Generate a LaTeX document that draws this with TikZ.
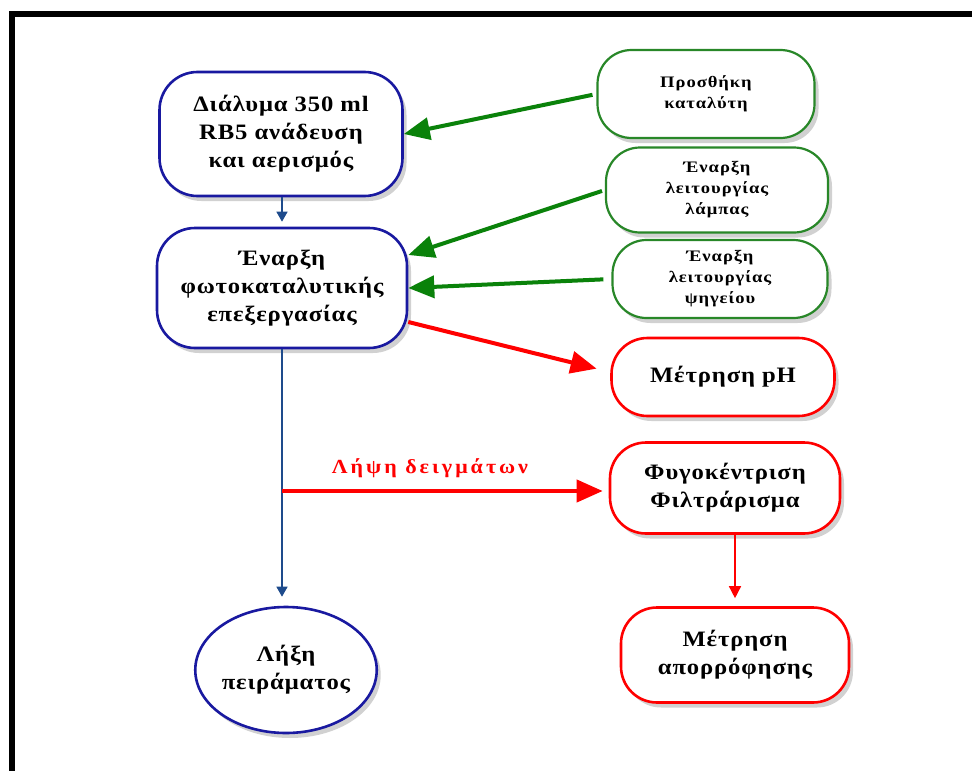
\documentclass[tikz,border=0pt]{standalone}
\usepackage{fontspec}
\setmainfont{Liberation Serif}
\usetikzlibrary{shapes.geometric,arrows.meta,shadows}
\definecolor{boxblue}{RGB}{25,25,160}
\definecolor{arrowblue}{RGB}{30,75,140}
\definecolor{boxgreen}{RGB}{40,135,40}
\definecolor{arrowgreen}{RGB}{10,130,10}
\definecolor{pured}{RGB}{255,0,0}
\newfontfamily\bigspaced[LetterSpace=4,FakeStretch=1.12]{Liberation Serif}
\newfontfamily\smallspaced[LetterSpace=6,FakeStretch=1.16]{Liberation Serif}
\newfontfamily\labelspaced[LetterSpace=15,FakeStretch=1.1]{Liberation Serif}
\begin{document}
\begin{tikzpicture}[x=1pt,y=-1pt,
  shade/.style={drop shadow={shadow xshift=4pt,shadow yshift=-5pt,opacity=0.18,fill=black}},
  base/.style={fill=white,align=center,inner sep=2pt,shade},
  bluebox/.style={base,draw=boxblue,line width=2.6pt,rounded corners=38pt,font=\bigspaced\bfseries\fontsize{22}{28}\selectfont},
  greenbox/.style={base,draw=boxgreen,line width=2.2pt,rounded corners=34pt,font=\smallspaced\bfseries\fontsize{16}{21}\selectfont},
  redbox/.style={base,draw=pured,line width=2.6pt,rounded corners=36pt,font=\bigspaced\bfseries\fontsize{22}{28}\selectfont},
  blueoval/.style={base,draw=boxblue,line width=2.6pt,ellipse,font=\bigspaced\bfseries\fontsize{22}{28}\selectfont},
  thinblue/.style={draw=arrowblue,line width=1.4pt,-{Triangle[length=10pt,width=11pt]}},
  thinred/.style={draw=pured,line width=1.4pt,-{Triangle[length=12pt,width=12pt]}},
  thickgreen/.style={draw=arrowgreen,line width=4pt,-{Triangle[length=26pt,width=22pt]}},
  thickred/.style={draw=pured,line width=4pt,-{Triangle[length=26pt,width=22pt]}},
  redlabel/.style={text=pured,font=\labelspaced\bfseries\fontsize{20}{22}\selectfont}
]
\useasboundingbox (0,0) rectangle (972,771);
\fill[white] (0,0) rectangle (972,771);
\draw[line width=6pt] (12,771) -- (12,13.5) -- (972,13.5);

\node[bluebox,minimum width=243pt,minimum height=124pt] (A) at (281,134) {Διάλυμα 350 ml\\RB5 ανάδευση\\και αερισμός};
\node[bluebox,minimum width=250pt,minimum height=120pt] (B) at (282,288) {Έναρξη\\φωτοκαταλυτικής\\επεξεργασίας};
\node[greenbox,minimum width=217pt,minimum height=88pt] (G1) at (706,94) {Προσθήκη\\καταλύτη};
\node[greenbox,minimum width=222pt,minimum height=85pt] (G2) at (717,190) {Έναρξη\\λειτουργίας\\λάμπας};
\node[greenbox,minimum width=215pt,minimum height=78pt] (G3) at (720,279) {Έναρξη\\λειτουργίας\\ψηγείου};
\node[redbox,minimum width=223pt,minimum height=78pt] (R1) at (723,377) {Μέτρηση pH};
\node[redbox,minimum width=230pt,minimum height=91pt] (R2) at (725,488) {Φυγοκέντριση\\Φιλτράρισμα};
\node[redbox,minimum width=228pt,minimum height=95pt] (R3) at (735,655) {Μέτρηση\\απορρόφησης};
\node[blueoval,minimum width=178pt,minimum height=126pt,inner sep=0pt] (E) at (286,670) {Λήξη\\πειράματος};

\coordinate (s) at (282,491);
\node[redlabel] (lbl) at (430,468) {Λήψη δειγμάτων};

\draw[thinblue,shorten >=5pt] (A.south -| B.north) -- (B.north);
\draw[thinblue,shorten >=9pt] (B.south) -- (B.south |- E.north);
\draw[thickred,shorten >=6pt] (s) -- (s -| R2.west);
\draw[thinred,shorten >=8pt] (R2.south -| R3.north) -- (R3.north);
\draw[thickgreen,shorten <=4pt] (G1.west) -- (A.east);
\draw[thickgreen,shorten <=3pt] (G2.west) -- ([yshift=33pt]B.east);
\draw[thickgreen,shorten <=8pt] (G3.west) -- (B.east);
\draw[thickred,shorten >=14pt] ([yshift=-34pt]B.east) -- ([yshift=5pt]R1.west);
\end{tikzpicture}
\end{document}
